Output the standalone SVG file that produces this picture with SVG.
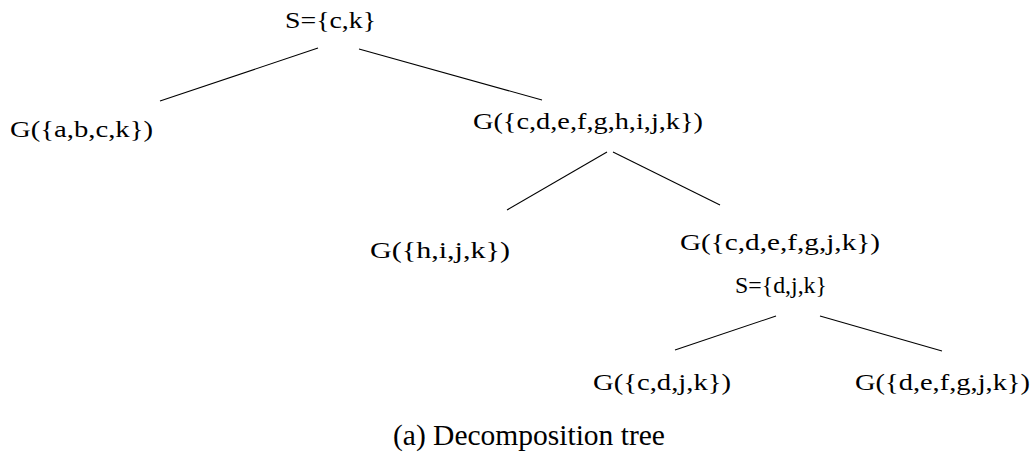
<svg xmlns="http://www.w3.org/2000/svg" width="1032" height="458" viewBox="0 0 1032 458">
<style>
text { font-family: "Liberation Serif", "Times New Roman", serif; fill: #000; }
.lbl { font-size: 22.5px; }
.cap { font-size: 29.5px; }
.edge { stroke: #000; stroke-width: 1.1; fill: none; }
</style>
<rect width="1032" height="458" fill="#fff"/>
<g id="connectors">
<line class="edge" x1="160" y1="101" x2="318" y2="48"/>
<line class="edge" x1="359" y1="49" x2="542" y2="100"/>
<line class="edge" x1="607" y1="152" x2="507" y2="210"/>
<line class="edge" x1="613" y1="152" x2="720" y2="205"/>
<line class="edge" x1="776" y1="316" x2="675" y2="350"/>
<line class="edge" x1="820" y1="316" x2="942" y2="351"/>
</g>
<g id="root"><text class="lbl" x="285" y="28" textLength="91" lengthAdjust="spacingAndGlyphs">S={c,k}</text></g>
<g id="n_abck"><text class="lbl" x="10" y="137" textLength="143" lengthAdjust="spacingAndGlyphs">G({a,b,c,k})</text></g>
<g id="n_cdefghijk"><text class="lbl" x="473" y="129" textLength="230" lengthAdjust="spacingAndGlyphs">G({c,d,e,f,g,h,i,j,k})</text></g>
<g id="n_hijk"><text class="lbl" x="370" y="258" textLength="140" lengthAdjust="spacingAndGlyphs">G({h,i,j,k})</text></g>
<g id="n_cdefgjk"><text class="lbl" x="680" y="250" textLength="200" lengthAdjust="spacingAndGlyphs">G({c,d,e,f,g,j,k})</text>
<text class="lbl" x="735" y="293" textLength="92" lengthAdjust="spacingAndGlyphs">S={d,j,k}</text></g>
<g id="n_cdjk"><text class="lbl" x="593" y="390" textLength="138" lengthAdjust="spacingAndGlyphs">G({c,d,j,k})</text></g>
<g id="n_defgjk"><text class="lbl" x="855" y="390" textLength="175" lengthAdjust="spacingAndGlyphs">G({d,e,f,g,j,k})</text></g>
<g id="caption"><text class="cap" x="393" y="445">(a) Decomposition tree</text></g>
</svg>
